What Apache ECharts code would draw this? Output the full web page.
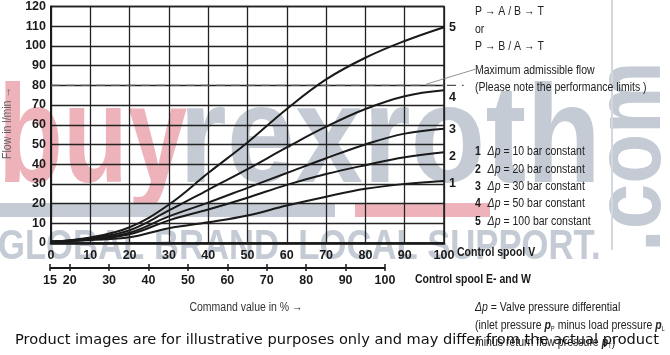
<!DOCTYPE html>
<html><head><meta charset="utf-8">
<script src="https://cdn.jsdelivr.net/npm/echarts@6/dist/echarts.min.js"></script>
<style>html,body{margin:0;padding:0;background:#fff}#c{width:670px;height:355px}</style>
</head><body><div id="c"></div>
<script>
// ---- data ----
const commandV   = [0, 10, 20, 30, 40, 50, 60, 70, 80, 90, 100];
const flow10bar  = [0.5, 1.5, 2.9, 7.5, 10.5, 14.0, 19.0, 23.5, 27.5, 30.0, 31.5];
const flow20bar  = [0.6, 1.8, 4.4, 11.5, 17.0, 23.0, 29.5, 35.0, 39.5, 43.5, 46.0];
const flow30bar  = [0.6, 2.0, 5.2, 13.5, 20.5, 28.0, 35.5, 43.0, 50.0, 55.5, 58.0];
const flow50bar  = [0.7, 2.4, 6.5, 16.5, 27.0, 37.5, 48.5, 59.0, 68.0, 74.5, 77.5];
const flow100bar = [0.7, 2.8, 8.0, 19.5, 35.5, 51.0, 68.0, 83.0, 94.0, 102.5, 109.5];
const curveNames = ['1', '2', '3', '4', '5'];
const legendTexts = ['10 bar constant', '20 bar constant', '30 bar constant', '50 bar constant', '100 bar constant'];
const maxFlow = 80;
const maxFlowLineX = [0, 105];
const leaderX = [95.5, 108];
const leaderY = [80.6, 88.2];
const spoolVTicks = [0, 10, 20, 30, 40, 50, 60, 70, 80, 90, 100];
const spoolEWTicks = [15, 20, 30, 40, 50, 60, 70, 80, 90, 100];
const yTicks = [0, 10, 20, 30, 40, 50, 60, 70, 80, 90, 100, 110, 120];

const SANS = '"Liberation Sans",Arial,sans-serif';
const INK = '#1a1a1a';
const CX = 0.84;   // horizontal condensing of annotation text
const WM_GRAY = '#c4cbd4', WM_PINK = '#eeb3ba';

const allFlows = [flow10bar, flow20bar, flow30bar, flow50bar, flow100bar];
const labelOffsets = [[-3, 3], [-3, 4], [-3, 1], [-3, 7], [-3, 0]];

const series = allFlows.map((arr, i) => ({
  type: 'line', name: curveNames[i], xAxisIndex: 0, yAxisIndex: 0,
  data: commandV.map((x, j) => [x, arr[j]]),
  smooth: 0.4, showSymbol: false, silent: true,
  lineStyle: { color: INK, width: 2 }, z: 5,
  endLabel: { show: true, formatter: curveNames[i], fontFamily: SANS, fontWeight: 'bold', fontSize: 12.5, color: INK, offset: labelOffsets[i] }
}));
series.push({
  type: 'line', xAxisIndex: 0, yAxisIndex: 0, silent: true, showSymbol: false, z: 3,
  data: [[0, maxFlow], [100, maxFlow]],
  lineStyle: { color: '#555', width: 1.3, type: [9, 6] }
});

const axisLabelStyle = { fontFamily: SANS, fontWeight: 'bold', fontSize: 12.5, color: INK };

const chart = echarts.init(document.getElementById('c'), null, { renderer: 'canvas' });

const txt = (x, y, text, extra, sx) => ({ type: 'text', x, y, scaleX: sx == null ? CX : sx, silent: true, z: 20,
  style: Object.assign({ text, fontFamily: SANS, fontSize: 12.5, fill: '#222', textVerticalAlign: 'middle' }, extra || {}) });

const legendRich = {
  n: { fontFamily: SANS, fontWeight: 'bold', fontSize: 12.5, fill: INK, width: 15 },
  d: { fontFamily: SANS, fontStyle: 'italic', fontSize: 12.5, fill: '#222' },
  t: { fontFamily: SANS, fontSize: 12.5, fill: '#222' }
};
const noteRich = {
  t: { fontFamily: SANS, fontSize: 12.5, fill: '#222' },
  b: { fontFamily: SANS, fontWeight: 'bold', fontStyle: 'italic', fontSize: 12.5, fill: '#222' },
  s: { fontFamily: SANS, fontSize: 7, fill: '#222', verticalAlign: 'bottom', padding: [6, 0, 0, 0] }
};

const graphics = [
  // watermark (behind chart)
  { type: 'text', x: -2, y: 143, scaleX: 0.76, silent: true, z: -10, style: { text: 'buy', fontFamily: SANS, fontWeight: 'bold', fontSize: 140, fill: WM_PINK, textVerticalAlign: 'middle' } },
  { type: 'text', x: 179, y: 143, scaleX: 0.875, silent: true, z: -10, style: { text: 'rexroth', fontFamily: SANS, fontWeight: 'bold', fontSize: 140, fill: WM_GRAY, textVerticalAlign: 'middle' } },
  { type: 'rect', silent: true, z: -10, shape: { x: 0, y: 203, width: 335, height: 14 }, style: { fill: WM_GRAY } },
  { type: 'rect', silent: true, z: -10, shape: { x: 355, y: 203, width: 135, height: 14 }, style: { fill: WM_PINK } },
  { type: 'text', x: -2, y: 247, scaleX: 0.825, silent: true, z: -10, style: { text: 'GLOBAL BRAND. LOCAL SUPPORT.', fontFamily: SANS, fontWeight: 'bold', fontSize: 42, fill: WM_GRAY, textVerticalAlign: 'middle' } },
  { type: 'text', x: 634, y: 252, rotation: Math.PI / 2, scaleX: 0.86, silent: true, z: -10, style: { text: '.com', fontFamily: SANS, fontWeight: 'bold', fontSize: 95, fill: WM_GRAY, textVerticalAlign: 'middle' } },
  { type: 'rect', silent: true, z: -10, shape: { x: 611, y: 0, width: 2, height: 250 }, style: { fill: '#d3d8de' } },

  // right-hand annotations
  txt(475, 12, 'P \u2192 A / B \u2192 T'),
  txt(475, 30, 'or'),
  txt(475, 47, 'P \u2192 B / A \u2192 T'),
  txt(475, 71, 'Maximum admissible flow'),
  txt(475, 88, '(Please note the performance limits )'),
  // axis captions
  txt(457, 253, 'Control spool V', { fontWeight: 'bold', fill: INK }),
  txt(531, 280, 'Control spool E- and W', { fontWeight: 'bold', fill: INK, textAlign: 'right' }),
  txt(246, 308, 'Command value in % \u2192', { textAlign: 'center', fill: '#333' }),
  { type: 'text', x: 8, y: 123, rotation: Math.PI / 2, scaleX: CX, silent: true, z: 20,
    style: { text: 'Flow in l/min \u2192', fontFamily: SANS, fontSize: 12.5, fill: '#666', textAlign: 'center', textVerticalAlign: 'middle' } },
  // pressure notes
  txt(475, 308, '{d|\u0394p}{t| = Valve pressure differential}', { rich: legendRich }),
  txt(475, 326, '{t|(inlet pressure }{b|p}{s|P}{t| minus load pressure }{b|p}{s|L}', { rich: noteRich }),
  txt(475, 343, '{t|minus return flow pressure }{b|p}{s|T}{t|)}', { rich: noteRich }),
  // disclaimer
  { type: 'text', x: 15, y: 340, silent: true, z: 30, style: { text: 'Product images are for illustrative purposes only and may differ from the actual product', fontFamily: '"DejaVu Sans",sans-serif', fontSize: 14.6, fill: '#111', textVerticalAlign: 'middle' } }
];
legendTexts.forEach((t, i) => {
  graphics.push(txt(475, 152 + i * 17.3, '{n|' + curveNames[i] + '}{d|\u0394p}{t| = ' + t + '}', { rich: legendRich }));
});

chart.setOption({
  animation: false,
  backgroundColor: '#fff',
  grid: [
    { left: 51, right: 226, top: 5, bottom: 112, show: true, borderColor: INK, borderWidth: 1.5, backgroundColor: 'transparent' },
    { left: 50, right: 285, top: 267, height: 1, show: false }
  ],
  xAxis: [
    { type: 'value', gridIndex: 0, min: 0, max: 100, interval: 10,
      axisLine: { show: true, onZero: false, lineStyle: { color: INK, width: 2.6 } },
      axisTick: { show: false },
      axisLabel: Object.assign({ margin: 6, customValues: spoolVTicks }, axisLabelStyle),
      splitLine: { show: true, lineStyle: { color: '#222', width: 1.3 } } },
    { type: 'value', gridIndex: 1, position: 'bottom', min: 15, max: 100,
      axisLine: { show: true, lineStyle: { color: INK, width: 2 } },
      axisTick: { show: true, customValues: spoolEWTicks, length: 3, lineStyle: { color: INK, width: 1.5 } },
      axisLabel: Object.assign({ margin: 6, customValues: spoolEWTicks }, axisLabelStyle),
      splitLine: { show: false } },
    { type: 'value', gridIndex: 1, position: 'top', min: 15, max: 100,
      axisLine: { show: false },
      axisTick: { show: true, customValues: spoolEWTicks, length: 3, lineStyle: { color: INK, width: 1.5 } },
      axisLabel: { show: false }, splitLine: { show: false } }
  ],
  yAxis: [
    { type: 'value', gridIndex: 0, min: 0, max: 120, interval: 10,
      axisLine: { show: true, lineStyle: { color: INK, width: 2 } },
      axisTick: { show: false },
      axisLabel: Object.assign({ margin: 5, customValues: yTicks }, axisLabelStyle),
      splitLine: { show: true, lineStyle: { color: '#222', width: 1.3 } } },
    { type: 'value', gridIndex: 1, show: false, min: 0, max: 1 }
  ],
  series: series,
  graphic: graphics
});

// parts of the limit annotation that run outside the plot: positioned through the axis scales
const px = (x, y) => chart.convertToPixel({ gridIndex: 0 }, [x, y]);
const dashA = px(100, maxFlow), dashB = px(maxFlowLineX[1], maxFlow);
const leadA = px(leaderX[0], leaderY[0]), leadB = px(leaderX[1], leaderY[1]);
chart.setOption({
  graphic: graphics.concat([
    { type: 'line', silent: true, z: 15, shape: { x1: dashA[0], y1: dashA[1], x2: dashB[0], y2: dashB[1] }, style: { stroke: '#555', lineWidth: 1.3, lineDash: [9, 6], lineDashOffset: -3 } },
    { type: 'line', silent: true, z: 15, shape: { x1: leadA[0], y1: leadA[1], x2: leadB[0], y2: leadB[1] }, style: { stroke: '#777', lineWidth: 0.8 } }
  ])
});
</script></body></html>
